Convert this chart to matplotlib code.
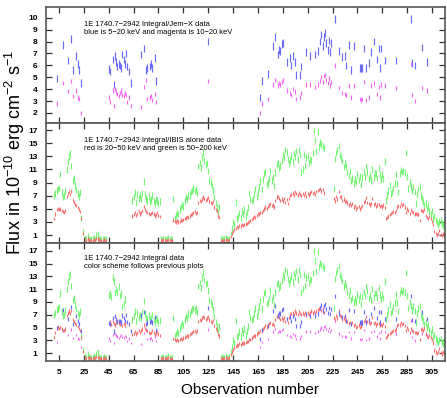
import matplotlib
matplotlib.use("Agg")
import matplotlib.pyplot as plt
import numpy as np

plt.rcParams['font.family'] = ['Liberation Sans', 'DejaVu Sans']
plt.rcParams['mathtext.fontset'] = 'custom'
plt.rcParams['mathtext.rm'] = 'Liberation Sans'
plt.rcParams['mathtext.default'] = 'regular'

# ---------------- Jem-X data (top panel) ----------------
jem_obs = [3, 8, 12, 15, 16, 19, 20, 21, 23,
           45, 46, 48, 49, 50, 51, 52, 53, 54, 55, 56, 57, 58, 59, 60, 61, 63,
           71, 73, 75, 76, 78, 79, 80, 82, 83,
           125,
           167, 168, 173, 177, 179, 181, 182, 183, 184, 185,
           188, 191, 192, 193, 195, 196, 199, 200,
           204, 207, 211, 213,
           215, 216, 217, 218, 219, 220, 221, 222, 223, 224,
           227, 230, 233, 235, 236, 238, 240, 242,
           247, 248, 249, 250, 252, 254, 256, 258, 261, 262, 263, 264, 267, 276,
           288, 289, 291, 297, 301]
jem_blue = [4.9, 7.7, 6.4, 8.2, 5.6, 6.8, 6.1, 5.6, 4.5,
            5.7, 5.5, 6.5, 4.4, 6.8, 6.3, 5.9, 6.1, 6.0, 5.8, 6.9, 6.5, 6.1, 7.0, 5.9, 5.5, 4.5,
            6.9, 7.4, 5.6, 5.8, 5.9, 6.1, 5.8, 6.6, 4.7,
            8.0,
            3.3, 4.7, 5.3, 7.6, 8.4, 6.9, 7.3, 7.2, 7.8, 7.9,
            6.3, 6.6, 6.0, 6.8, 6.3, 5.2, 5.2, 5.9,
            7.1, 6.8, 6.9, 7.2,
            8.0, 8.6, 7.6, 8.4, 8.7, 7.9, 7.3, 8.1, 7.1, 7.9,
            9.9, 7.2, 6.7, 6.8, 6.0, 7.7, 5.6, 7.6,
            5.8, 5.8, 5.8, 7.4, 5.8, 6.2, 7.1, 8.0, 6.5, 7.4, 5.8, 7.4, 6.4, 6.4,
            9.9, 6.2, 6.0, 7.5, 6.3]
jem_magenta = [2.8, 4.5, 3.85, 4.7, 3.4, 3.9, 3.3, 3.2, 2.0,
               3.3, 2.9, 3.9, 2.6, 4.0, 3.8, 3.6, 3.4, 3.7, 3.9, 3.5, 3.4, 3.7, 3.5, 2.9, 3.3, 2.6,
               2.5, 4.2, 4.8, 3.2, 3.3, 3.4, 3.1, 3.6, 2.9,
               4.7,
               2.0, 2.8, 3.2, 4.4, 4.8, 4.3, 4.5, 4.4, 4.6, 4.8,
               3.9, 3.7, 3.5, 4.0, 3.8, 3.2, 3.3, 3.7,
               4.4, 4.4, 4.2, 4.4,
               4.7, 5.0, 4.6, 5.1, 5.2, 4.8, 4.5, 4.9, 4.3, 4.6,
               6.0, 4.1, 3.7, 3.6, 3.5, 4.3, 3.3, 4.3,
               3.2, 3.1, 3.2, 4.6, 3.1, 3.3, 4.3, 4.5, 3.6, 4.2, 3.3, 4.4, 4.3, 4.1,
               6.1, 3.5, 3.0, 4.1, 3.9]

# ---------------- IBIS data (middle panel) ----------------
ibis_obs = (list(range(1, 25)) + list(range(26, 44)) + list(range(64, 87)) +
            list(range(87, 97)) + list(range(97, 135)) + list(range(135, 143)) +
            list(range(143, 219)) + list(range(226, 316)))
ibis_green = [
    # obs 1-24
    7.0, 7.3, 7.8, 8.0, 8.2, 10.3, 7.5, 6.8, 7.0, 7.7, 11.0, 12.2, 13.0, 13.4, 11.5, 9.3,
    9.6, 8.6, 7.9, 7.3, 6.9, 7.5, 3.6, 1.5,
    # obs 26-43
    0.5, 0.3, 0.8, 0.4, 0.2, 0.3, 0.3, 0.5, 0.2, 0.9, 1.1, 0.4, 0.3, 0.2, 0.3, 0.4, 0.2, 0.3,
    # obs 64-86
    6.3, 6.8, 7.5, 6.0, 7.2, 6.6, 7.0, 6.5, 7.4, 9.2, 7.2, 6.6, 6.3, 6.9, 6.1, 6.4, 7.0,
    6.2, 5.8, 6.5, 6.3, 5.8, 6.1,
    # obs 87-96
    0.3, 0.2, 0.4, 0.3, 0.2, 0.3, 0.5, 0.2, 0.3, 0.4,
    # obs 97-134
    6.5, 3.6, 4.0, 4.4, 4.2, 4.9, 5.3, 5.7, 5.4, 6.3, 6.8, 6.5, 7.2, 7.0, 7.6, 7.8, 8.1,
    7.7, 8.0, 7.4, 11.5, 12.0, 11.2, 12.8, 13.6, 12.4, 11.8, 12.0, 10.8, 9.3, 9.0, 8.5,
    7.8, 6.8, 5.9, 5.2, 4.5, 5.3,
    # obs 135-142
    0.3, 0.4, 0.2, 0.3, 0.5, 0.3, 0.2, 0.4,
    # obs 143-160
    1.2, 2.0, 3.0, 2.6, 6.0, 3.5, 3.8, 4.4, 3.6, 4.6, 4.2, 4.9, 3.8, 4.5, 5.2, 7.4, 6.5, 6.2,
    # obs 161-180
    6.4, 7.2, 8.0, 6.8, 7.5, 8.3, 9.2, 8.0, 9.5, 10.4, 10.6, 8.7, 9.0, 9.6, 10.8, 9.3,
    9.8, 8.5, 10.5, 11.8,
    # obs 181-200
    12.0, 11.2, 11.6, 12.3, 13.2, 12.8, 14.0, 13.6, 12.6, 11.9, 12.4, 13.0, 12.2, 13.5,
    13.0, 13.8, 12.5, 14.0, 13.2, 10.5,
    # obs 201-218
    11.0, 13.3, 11.5, 12.8, 13.0, 12.0, 12.6, 12.4, 13.5, 17.0, 15.5, 13.8, 16.8, 14.5,
    15.1, 14.8, 14.6, 14.3,
    # obs 226-235
    8.1, 12.6, 13.5, 14.0, 14.6, 13.2, 12.8, 12.3, 11.4, 11.9,
    # obs 236-250
    11.5, 10.6, 10.0, 10.8, 9.3, 9.6, 8.9, 9.5, 9.1, 10.2, 9.4, 9.9, 8.7, 9.8, 10.6,
    # obs 251-268
    9.9, 11.5, 10.7, 9.6, 10.1, 9.3, 11.0, 9.8, 10.4, 10.4, 9.7, 11.2, 10.2, 9.5, 10.2,
    9.6, 12.2, 6.3,
    # obs 269-290
    7.0, 7.8, 8.6, 7.3, 7.6, 8.2, 8.9, 10.2, 8.9, 7.6, 10.4, 10.9, 10.6, 10.8, 10.5,
    13.5, 9.9, 8.1, 9.0, 8.4, 7.7, 8.3,
    # obs 291-315
    7.6, 5.8, 7.2, 8.0, 8.4, 7.0, 6.6, 6.1, 5.5, 5.8, 5.0, 5.4, 4.6, 4.2, 4.7, 3.5, 3.9,
    3.3, 3.0, 2.6, 3.1, 3.2, 2.8, 2.5, 2.7]
ibis_red = [
    # obs 1-24
    3.5, 4.2, 4.9, 5.1, 4.9, 5.0, 4.8, 4.6, 4.5, 4.8, 6.9, 7.3, 7.6, 7.2, 7.7, 6.3, 6.0,
    5.7, 5.5, 5.2, 4.9, 4.6, 3.5, 1.3,
    # obs 26-43
    0.3, 0.2, 0.4, 0.3, 0.1, 0.2, 0.2, 0.3, 0.2, 0.5, 0.4, 0.3, 0.2, 0.1, 0.2, 0.3, 0.2, 0.2,
    # obs 64-86
    3.9, 4.1, 4.4, 4.0, 4.3, 4.6, 4.2, 4.5, 4.8, 5.4, 4.9, 4.6, 4.5, 4.3, 4.1, 4.3, 4.5,
    4.2, 3.9, 4.1, 4.4, 4.0, 3.8,
    # obs 87-96
    0.2, 0.1, 0.3, 0.2, 0.1, 0.2, 0.3, 0.1, 0.2, 0.2,
    # obs 97-134
    3.3, 3.1, 3.0, 3.2, 3.0, 3.1, 3.3, 3.2, 3.4, 3.5, 3.6, 3.8, 3.7, 3.9, 4.1, 4.2, 4.4,
    4.6, 4.3, 4.5, 6.0, 6.3, 6.1, 6.5, 6.8, 6.6, 6.3, 6.5, 6.7, 6.2, 6.0, 5.8, 6.1, 5.3,
    4.9, 4.6, 3.9, 3.7,
    # obs 135-142
    0.2, 0.2, 0.1, 0.2, 0.3, 0.2, 0.1, 0.3,
    # obs 143-160
    0.8, 1.2, 1.6, 1.9, 2.0, 2.3, 2.2, 2.5, 2.4, 2.6, 2.5, 2.6, 2.7, 2.8, 2.9, 3.1, 3.2, 3.4,
    # obs 161-180
    3.6, 3.8, 3.7, 4.0, 4.3, 4.2, 4.5, 4.4, 4.8, 5.0, 5.3, 5.1, 5.4, 5.6, 5.8, 5.5, 5.6,
    5.3, 6.3, 6.8,
    # obs 181-200
    6.9, 6.6, 6.3, 6.5, 6.2, 6.6, 6.0, 6.4, 5.8, 6.6, 7.0, 7.2, 7.4, 7.1, 7.6, 7.3, 7.1,
    7.5, 7.2, 7.0,
    # obs 201-218
    7.3, 7.0, 7.4, 6.9, 7.3, 7.1, 7.4, 7.6, 7.3, 7.5, 7.2, 7.6, 7.8, 7.9, 8.1, 7.7, 8.0, 7.4,
    # obs 226-235
    6.6, 6.2, 6.9, 6.5, 7.6, 6.9, 6.8, 6.3, 6.5, 6.1,
    # obs 236-250
    6.2, 5.9, 5.6, 5.8, 5.5, 5.8, 5.3, 5.5, 5.0, 5.2, 5.4, 5.0, 5.2, 5.5, 6.0,
    # obs 251-268
    6.2, 6.7, 6.0, 5.8, 5.6, 5.8, 6.6, 5.7, 5.8, 5.4, 5.6, 5.7, 5.4, 5.5, 5.3, 5.6, 5.2, 3.5,
    # obs 269-290
    3.7, 3.9, 4.1, 4.3, 4.4, 4.6, 4.5, 4.8, 5.3, 5.5, 5.4, 5.8, 5.5, 5.7, 5.3, 4.5, 5.0,
    4.7, 4.3, 4.9, 4.6, 4.4,
    # obs 291-315
    4.2, 4.3, 4.1, 4.2, 3.2, 4.7, 4.8, 4.6, 4.9, 4.0, 3.7, 3.5, 3.8, 3.5, 3.1, 2.6, 1.5,
    1.2, 1.0, 1.3, 1.7, 1.1, 0.9, 1.2, 1.0]

# IBIS points seen only in the combined (bottom) panel
extra_obs = list(range(45, 59))
extra_green = [10.0, 10.3, 9.8, 12.8, 12.2, 10.4, 11.0, 10.6, 11.4, 9.9, 10.3, 8.2, 8.7, 9.4]
extra_red = [5.6, 5.9, 5.5, 6.0, 5.7, 5.4, 5.8, 6.1, 5.6, 5.5, 5.9, 5.3, 5.6, 5.4]

# error bar half-lengths
err_blue, err_magenta, err_red, err_green = 0.32, 0.18, 0.25, 0.5

xticks = list(range(5, 306, 20))
texts = [("1E 1740.7\u22122942 Integral/Jem\u2212X data",
          "blue is 5\u221220 keV and magenta is 10\u221220 keV"),
         ("1E 1740.7\u22122942 Integral/IBIS alone data",
          "red is 20\u221250 keV and green is 50\u2212200 keV"),
         ("1E 1740.7\u22122942 Integral data",
          "color scheme follows previous plots")]

C_BLUE, C_MAG, C_RED, C_GREEN = '#6a6af5', '#f56af5', '#f77272', '#78f478'

W, H = 447, 398
fig = plt.figure(figsize=(W / 100, H / 100), dpi=100)

left, right = 46, 445
panels = [(7, 123), (123, 243), (243, 361)]
axes = []
for (t, b) in panels:
    ax = fig.add_axes([left / W, 1 - b / H, (right - left) / W, (b - t) / H])
    axes.append(ax)

def eb(ax, x, y, e, c):
    ax.errorbar(x, y, yerr=e, fmt='none', ecolor=c, elinewidth=0.85, capsize=0)

# top panel
eb(axes[0], jem_obs, jem_blue, err_blue, C_BLUE)
eb(axes[0], jem_obs, jem_magenta, err_magenta, C_MAG)
# middle
eb(axes[1], ibis_obs, ibis_green, err_green, C_GREEN)
eb(axes[1], ibis_obs, ibis_red, err_red, C_RED)
# bottom
eb(axes[2], ibis_obs, ibis_green, err_green, C_GREEN)
eb(axes[2], extra_obs, extra_green, err_green, C_GREEN)
eb(axes[2], ibis_obs, ibis_red, err_red, C_RED)
eb(axes[2], extra_obs, extra_red, err_red, C_RED)
eb(axes[2], jem_obs, jem_blue, err_blue, C_BLUE)
eb(axes[2], jem_obs, jem_magenta, err_magenta, C_MAG)

ylims = [(1.16, 10.9), (-0.2, 18.08), (-0.2, 18.2)]
yticks = [list(range(2, 11)), list(range(1, 18, 2)), list(range(1, 18, 2))]
for i, ax in enumerate(axes):
    ax.set_xlim(-5.5, 315.5)
    ax.set_ylim(*ylims[i])
    ax.set_xticks(xticks)
    ax.set_yticks(yticks[i])
    ax.tick_params(direction='in', length=4.5, width=0.9, color='#333333',
                   top=True, right=True, labelsize=6, pad=6)
    for lab in ax.get_yticklabels():
        lab.set_fontweight('bold')
    if i < 2:
        ax.tick_params(labelbottom=False)
    else:
        for lab in ax.get_xticklabels():
            lab.set_fontweight('bold')
    for s in ax.spines.values():
        s.set_linewidth(1.2)
        s.set_color('#555555')

text_y = [(24, 33), (140, 149), (259, 267)]
for (l1, l2), (y1, y2) in zip(texts, text_y):
    fig.text(84 / W, 1 - y1 / H, l1, fontsize=5.4, va='center', ha='left')
    fig.text(84 / W, 1 - y2 / H, l2, fontsize=5.4, va='center', ha='left')

fig.text(250 / W, 1 - 390 / H, "Observation number", fontsize=11,
         ha='center', va='center')
fig.text(15 / W, 1 - 152 / H,
         "Flux in 10$^{-10}$ erg cm$^{-2}$ s$^{-1}$", fontsize=13,
         rotation=90, ha='center', va='center')

fig.savefig("out.png", dpi=100)
